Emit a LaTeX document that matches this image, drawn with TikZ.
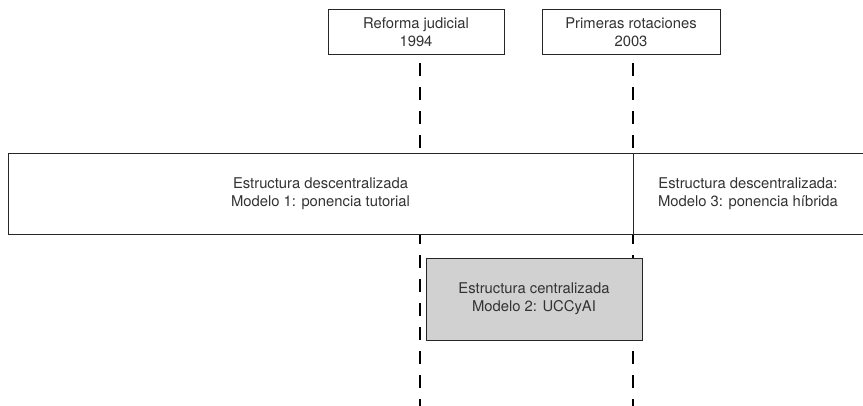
\documentclass[tikz,border=0pt]{standalone}
\usepackage{fontspec}
\setmainfont{TeX Gyre Heros}
\begin{document}
\begin{tikzpicture}[x=1pt,y=-1pt,
  lbl/.style={font=\fontsize{14.8}{18}\selectfont, text=black!80, align=center},
  evbox/.style={draw=black!85, line width=0.8pt, fill=white, lbl, inner sep=0pt},
  guide/.style={draw=black, line width=1.6pt, dash pattern=on 13pt off 11pt}]
\useasboundingbox (0,0) rectangle (863,406);
\clip (0,0) rectangle (863,406);
% top event boxes
\node[evbox, minimum width=176pt, minimum height=45pt] (top1) at (416,32) {Reforma judicial\\1994};
\node[evbox, minimum width=178pt, minimum height=45pt] (top2) at (631,32) {Primeras rotaciones\\2003};
% dashed guides
\coordinate (g1s) at (420,63);
\coordinate (g1e) at (420,410);
\coordinate (g2s) at (633,63);
\coordinate (g2e) at (633,410);
\draw[guide] (g1s) -- (g1e);
\draw[guide] (g2s) -- (g2e);
% wide structure band
\node[evbox, minimum width=625pt, minimum height=81pt] (m1) at (320.5,193.5) {Estructura descentralizada\\Modelo 1: ponencia tutorial};
\node[evbox, minimum width=240pt, minimum height=81pt, anchor=west] (m3) at (633,193.5) {};
\node[lbl] (m3t) at (748,193.5) {Estructura descentralizada:\\Modelo 3: ponencia híbrida};
% centralized model
\node[evbox, fill=black!18, minimum width=216pt, minimum height=82pt] (m2) at (534,299) {Estructura centralizada\\Modelo 2: UCCyAI};
\end{tikzpicture}
\end{document}
